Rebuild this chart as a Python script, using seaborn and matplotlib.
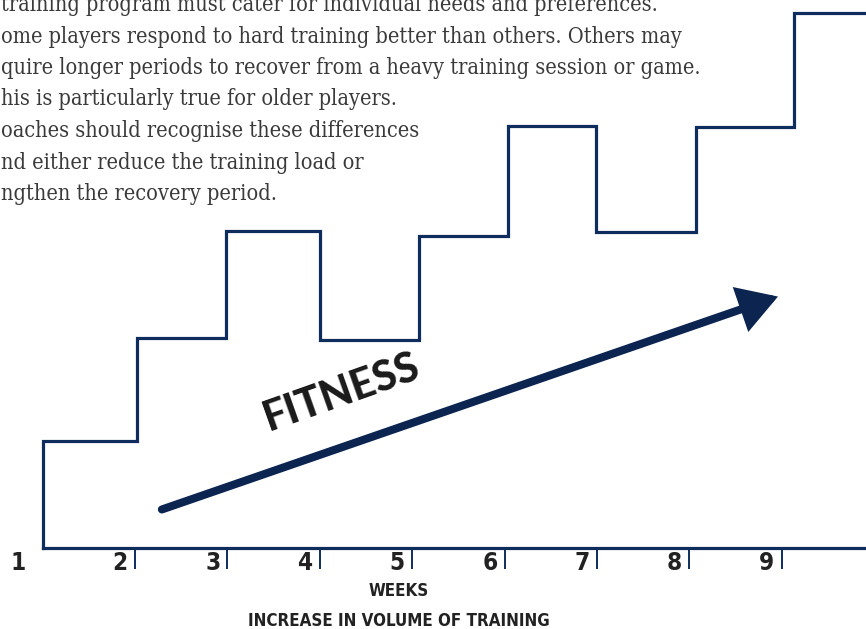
import matplotlib
matplotlib.use("Agg")
import matplotlib.pyplot as plt
import seaborn as sns
import pandas as pd
import numpy as np

# ---------------- data ----------------
step_weeks = [1.0, 1.0, 2.02, 2.98, 4.0, 5.07, 6.04, 6.99, 8.07, 9.13, 10.2]
step_levels = [0.0, 1.0, 1.96, 2.96, 1.94, 2.92, 3.94, 2.95, 3.93, 5.0, 5.0]
week_labels = ["1", "2", "3", "4", "5", "6", "7", "8", "9"]
tick_weeks = [2, 3, 4, 5, 6, 7, 8, 9]
arrow_start = (2.29, 0.36)
arrow_end = (8.96, 2.35)
paragraph = [
    "training program must cater for individual needs and preferences.",
    "ome players respond to hard training better than others. Others may",
    "quire longer periods to recover from a heavy training session or game.",
    "his is particularly true for older players.",
    "oaches should recognise these differences",
    "nd either reduce the training load or",
    "ngthen the recovery period.",
]
x_title = "WEEKS"
x_subtitle = "INCREASE IN VOLUME OF TRAINING"
arrow_label = "FITNESS"

NAVY = "#0f2d5c"
ARROW = "#0b2450"

sns.set_theme(style="white")
plt.rcParams["font.family"] = ["DejaVu Sans"]

fig = plt.figure(figsize=(8.66, 6.29), dpi=100)
ax = fig.add_axes([0, 0, 1, 1])
ax.set_xlim(0.5377, 9.913)
ax.set_ylim((548 - 629) / 107.0, 548 / 107.0)
ax.axis("off")

df = pd.DataFrame({"week": step_weeks, "level": step_levels})
sns.lineplot(data=df, x="week", y="level", ax=ax, estimator=None, sort=False,
             drawstyle="steps-post", color=NAVY, linewidth=2.3,
             solid_joinstyle="miter", solid_capstyle="projecting")

# baseline
base = pd.DataFrame({"week": [step_weeks[0], 10.2], "level": [0.0, 0.0]})
sns.lineplot(data=base, x="week", y="level", ax=ax, estimator=None, sort=False,
             color=NAVY, linewidth=2.3, solid_capstyle="projecting")

# tick marks
ax.vlines(tick_weeks, 0, -0.195, color=NAVY, linewidth=1.4)

cond = dict(family="DejaVu Sans", fontstretch="condensed", fontweight="bold",
            color="#222222")
for i, lab in enumerate(week_labels):
    w = i + 1
    xpos = w - (0.27 if w == 1 else 0.16)
    ax.text(xpos, -0.14, lab, ha="center", va="center", fontsize=17.5, **cond)

ax.text(4.857, -0.40, x_title, ha="center", va="center", fontsize=12.2, **cond)
ax.text(4.857, -0.68, x_subtitle, ha="center", va="center", fontsize=12.2, **cond)

# arrow
ax.annotate("", xy=arrow_end, xytext=arrow_start,
            arrowprops=dict(arrowstyle="-|>,head_length=1.0,head_width=0.6",
                            lw=5.8, color=ARROW, mutation_scale=20,
                            shrinkA=0, shrinkB=0, joinstyle="miter"))

ax.text(4.24, 1.45, arrow_label, ha="center", va="center", rotation=19.5,
        rotation_mode="anchor", fontsize=30, family="Lato", fontweight="black",
        color="#1a1a1a")

# paragraph (left part is cut by the page edge in the original)
x0 = (1 - 42.7) / 92.37 + 1
for i, line in enumerate(paragraph):
    yb = (548 - (11 + 31.5 * i)) / 107.0
    ax.text(x0, yb, line, ha="left", va="baseline", fontsize=15.6,
            family="DejaVu Serif", fontstretch="condensed", color="#3a3a3a")

fig.savefig("out.png", dpi=100)
